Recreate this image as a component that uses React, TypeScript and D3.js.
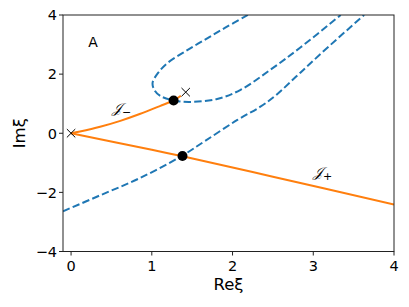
import React from "react";
import * as d3 from "d3";

const xTicks = [0, 1, 2, 3, 4];
const yTicks = [-4, -2, 0, 2, 4];

// orange steepest-descent contours
const jMinus: [number, number][] = [
  [0, 0], [0.11, 0.06], [0.36, 0.22], [0.61, 0.42], [0.85, 0.65],
  [1.1, 0.92], [1.27, 1.11], [1.36, 1.27],
];
const jPlus: [number, number][] = [
  [0, 0], [1.0, -0.56], [1.38, -0.78], [2.5, -1.47], [4, -2.41],
];

// blue dashed curves
const dashLower: [number, number][] = [
  [-0.1, -2.64], [0.36, -2.1], [0.85, -1.52], [1.37, -0.77], [1.66, -0.26],
  [2.06, 0.45], [2.34, 0.89], [2.53, 1.27], [2.84, 2.05], [3.21, 2.98], [3.63, 4.0],
];
const dashU: [number, number][] = [
  [2.19, 4.0], [1.91, 3.57], [1.66, 3.17], [1.41, 2.76], [1.2, 2.39], [1.08, 2.05],
  [1.01, 1.71], [1.03, 1.47], [1.1, 1.27], [1.27, 1.11], [1.47, 1.06], [1.81, 1.16],
  [2.1, 1.47], [2.47, 2.15], [2.84, 2.9], [3.34, 4.0],
];

const dots: [number, number][] = [[1.27, 1.11], [1.38, -0.77]];
const crosses: [number, number][] = [[0, 0], [1.42, 1.39]];

const W = 409, H = 307;
const L = 63, R = 394, T = 15, B = 251.5;

export default function App() {
  const x = d3.scaleLinear().domain([-0.1, 4]).range([L, R]);
  const y = d3.scaleLinear().domain([-4, 4]).range([B, T]);
  const line = d3.line<[number, number]>()
    .x((d) => x(d[0]))
    .y((d) => y(d[1]))
    .curve(d3.curveCatmullRom.alpha(0.5));
  const font = "DejaVu Sans, sans-serif";
  const cs = 4.2;
  return (
    <svg width={W} height={H} style={{ position: "absolute", left: 0, top: 0 }}>
      <defs>
        <clipPath id="plot">
          <rect x={L} y={T} width={R - L} height={B - T} />
        </clipPath>
      </defs>
      <rect x={0} y={0} width={W} height={H} fill="#fff" />
      <g clipPath="url(#plot)" fill="none">
        <path d={line(jMinus) || ""} stroke="#ff7f0e" strokeWidth={2} />
        <path d={line(jPlus) || ""} stroke="#ff7f0e" strokeWidth={2} />
        <path d={line(dashLower) || ""} stroke="#1f77b4" strokeWidth={2} strokeDasharray="7.4 3.2" />
        <path d={line(dashU) || ""} stroke="#1f77b4" strokeWidth={2} strokeDasharray="7.4 3.2" />
      </g>
      {dots.map((d, i) => (
        <circle key={"d" + i} cx={x(d[0])} cy={y(d[1])} r={5} fill="#000" />
      ))}
      {crosses.map((d, i) => (
        <path
          key={"c" + i}
          d={`M${x(d[0]) - cs},${y(d[1]) - cs}L${x(d[0]) + cs},${y(d[1]) + cs}M${x(d[0]) - cs},${y(d[1]) + cs}L${x(d[0]) + cs},${y(d[1]) - cs}`}
          stroke="#000"
          strokeWidth={1}
          fill="none"
        />
      ))}
      <rect x={L} y={T} width={R - L} height={B - T} fill="none" stroke="#222" strokeWidth={1} />
      {xTicks.map((t) => (
        <g key={"x" + t}>
          <line x1={x(t)} x2={x(t)} y1={B} y2={B + 4} stroke="#222" strokeWidth={1} />
          <text x={x(t)} y={B + 19} textAnchor="middle" fontFamily={font} fontSize={14.5} fill="#000">
            {t}
          </text>
        </g>
      ))}
      {yTicks.map((t) => (
        <g key={"y" + t}>
          <line x1={L - 4} x2={L} y1={y(t)} y2={y(t)} stroke="#222" strokeWidth={1} />
          <text x={L - 6} y={y(t) + 5.3} textAnchor="end" fontFamily={font} fontSize={14.5} fill="#000">
            {t < 0 ? "\u2212" + Math.abs(t) : t}
          </text>
        </g>
      ))}
      <text x={(L + R) / 2} y={290} textAnchor="middle" fontFamily={font} fontSize={16.5} fill="#000">
        Reξ
      </text>
      <text
        transform={`translate(25,${(T + B) / 2}) rotate(-90)`}
        textAnchor="middle"
        fontFamily={font}
        fontSize={16.5}
        fill="#000"
      >
        Imξ
      </text>
      <text x={93} y={47} textAnchor="middle" fontFamily={font} fontSize={14} fill="#000">
        A
      </text>
      <text x={112} y={113} fontFamily="DejaVu Serif, serif" fontStyle="italic" fontSize={14} fill="#000">
        𝒥<tspan fontSize={11} dy={3} fontStyle="normal" fontFamily={font}>−</tspan>
      </text>
      <text x={313} y={177} fontFamily="DejaVu Serif, serif" fontStyle="italic" fontSize={14} fill="#000">
        𝒥<tspan fontSize={11} dy={3} fontStyle="normal" fontFamily={font}>+</tspan>
      </text>
    </svg>
  );
}
